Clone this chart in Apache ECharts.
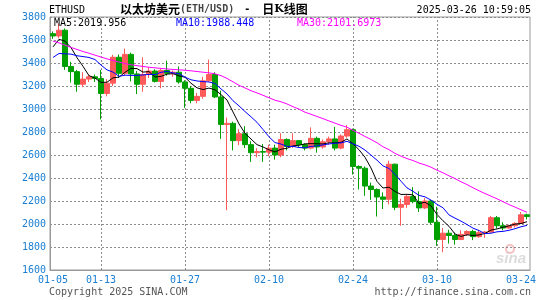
<!DOCTYPE html>
<html><head><meta charset="utf-8">
<script src="https://cdn.jsdelivr.net/npm/echarts@6.0.0/dist/echarts.min.js"></script>
<style>html,body{margin:0;padding:0;background:#fff}#c{width:545px;height:300px}</style>
</head><body><div id="c"></div>
<script>
const dates = ['01-05','01-06','01-07','01-08','01-09','01-10','01-11','01-12','01-13','01-14','01-15','01-16','01-17','01-18','01-19','01-20','01-21','01-22','01-23','01-24','01-25','01-26','01-27','01-28','01-29','01-30','01-31',
'02-01','02-02','02-03','02-04','02-05','02-06','02-07','02-08','02-09','02-10','02-11','02-12','02-13','02-14','02-15','02-16','02-17','02-18','02-19','02-20','02-21','02-22','02-23','02-24','02-25','02-26','02-27','02-28',
'03-01','03-02','03-03','03-04','03-05','03-06','03-07','03-08','03-09','03-10','03-11','03-12','03-13','03-14','03-15','03-16','03-17','03-18','03-19','03-20','03-21','03-22','03-23','03-24','03-25'];
const opens = [3655,3635,3685,3370,3325,3215,3260,3280,3265,3135,3225,3450,3310,3475,3305,3215,3300,3330,3240,3335,3310,3320,3235,3180,3075,3110,3245,3300,3105,2865,2875,2725,2785,2690,2620,2630,2625,2660,2600,2735,2675,2725,2690,2660,2745,2670,2715,2740,2660,2765,2820,2500,2485,2330,2300,2235,2215,2520,2145,2170,2240,2195,2140,2200,2015,1865,1920,1900,1865,1910,1935,1890,1925,1930,2055,1985,1965,1985,2005,2080];
const highs = [3675,3745,3700,3410,3340,3320,3300,3300,3340,3260,3470,3475,3525,3490,3330,3450,3360,3345,3350,3420,3335,3370,3250,3200,3140,3280,3430,3320,3160,2925,2890,2825,2850,2720,2660,2695,2690,2690,2790,2745,2790,2730,2700,2840,2760,2735,2760,2845,2780,2860,2830,2510,2500,2360,2310,2275,2550,2525,2220,2260,2320,2285,2225,2210,2150,1965,1950,1925,1945,1945,1950,1950,1940,2070,2070,2015,1995,2015,2105,2090];
const lows = [3610,3615,3340,3230,3150,3190,3235,3235,2910,3110,3200,3270,3290,3240,3130,3150,3270,3230,3180,3290,3280,3220,3010,3050,3050,3090,3235,3095,2740,2120,2640,2685,2660,2540,2580,2540,2590,2560,2580,2640,2660,2670,2640,2650,2620,2655,2690,2640,2650,2750,2430,2300,2245,2210,2065,2130,2170,2120,1985,2140,2180,2105,2130,1995,1810,1755,1830,1820,1860,1895,1860,1880,1880,1925,1960,1945,1960,1970,2000,2040];
const closes = [3635,3685,3370,3325,3215,3260,3280,3265,3135,3225,3450,3310,3475,3305,3215,3300,3330,3240,3335,3310,3320,3235,3180,3075,3110,3245,3300,3105,2865,2875,2725,2785,2690,2620,2630,2625,2660,2600,2735,2675,2725,2690,2660,2745,2670,2715,2740,2660,2765,2820,2500,2485,2330,2300,2235,2215,2520,2145,2170,2240,2195,2140,2200,2015,1865,1920,1900,1865,1910,1935,1890,1925,1930,2055,1985,1965,1985,2005,2080,2065];
const ma5 = [3540,3606,3590,3534,3446,3371,3290,3269,3231,3233,3271,3277,3319,3353,3351,3321,3325,3278,3284,3303,3307,3288,3276,3224,3184,3169,3182,3167,3125,3078,2974,2871,2788,2739,2690,2670,2645,2627,2650,2659,2679,2685,2697,2699,2698,2696,2706,2706,2710,2740,2697,2646,2580,2487,2370,2313,2320,2283,2257,2258,2254,2178,2189,2158,2083,2028,1980,1913,1892,1906,1900,1905,1918,1947,1957,1972,1984,1999,2004,2020];
const ma10 = [3448,3483,3480,3477,3463,3456,3448,3430,3382,3340,3321,3284,3294,3292,3292,3296,3301,3299,3319,3327,3314,3307,3277,3254,3244,3238,3235,3222,3175,3131,3072,3027,2978,2932,2884,2822,2758,2708,2695,2675,2675,2665,2662,2675,2679,2688,2696,2702,2705,2719,2697,2676,2643,2599,2555,2505,2483,2432,2372,2314,2284,2249,2236,2208,2171,2141,2079,2051,2025,1995,1964,1943,1916,1920,1932,1936,1945,1959,1976,1988];
const ma30 = [3590,3575,3555,3535,3518,3500,3485,3468,3452,3436,3422,3408,3395,3385,3377,3370,3363,3358,3353,3348,3344,3341,3337,3332,3326,3320,3314,3306,3290,3266,3236,3206,3183,3159,3140,3119,3098,3076,3063,3044,3020,2999,2972,2954,2935,2916,2896,2877,2858,2842,2814,2789,2761,2735,2706,2672,2646,2614,2590,2569,2552,2530,2514,2494,2468,2445,2419,2395,2367,2343,2315,2289,2265,2242,2219,2194,2169,2147,2124,2102];
const maLabels = ['MA5:2019.956','MA10:1988.448','MA30:2101.6973'];
const labelDates = ['01-05','01-13','01-27','02-10','02-24','03-10','03-24'];
const gridDates = ['01-13','01-27','02-10','02-24','03-10'];

const MONO = '"DejaVu Sans Mono", "Liberation Mono", monospace';
const BLUE = '#1a7fd3';
const GRIDC = '#8c8c8c';
const labelIdx = labelDates.map(d => dates.indexOf(d));
const gridIdx = gridDates.map(d => dates.indexOf(d));
const kdata = dates.map((d, i) => [opens[i], closes[i], lows[i], highs[i]]);

const chart = echarts.init(document.getElementById('c'), null, {renderer: 'canvas'});
chart.setOption({
  animation: false,
  backgroundColor: '#fff',
  title: [
    {text: 'ETHUSD', left: 49, top: 5, padding: 0, textStyle: {fontFamily: MONO, fontSize: 10, fontWeight: 'normal', color: '#000'}},
    {text: '{a|以太坊美元}{b|(ETH/USD)}{c| - }{a|日}{k|K}{a|线图}', left: 120, top: 3, padding: 0,
      textStyle: {rich: {
        a: {fontFamily: '"Noto Sans CJK SC"', fontSize: 12, color: '#000'},
        b: {fontFamily: MONO, fontSize: 10, color: '#444'},
        c: {fontFamily: MONO, fontSize: 10, color: '#000', padding: [0, 6, 0, 4]},
        k: {fontFamily: '"DejaVu Serif"', fontSize: 11, fontWeight: 'bold', color: '#000'}
      }}},
    {text: '2025-03-26 10:59:05', right: 14, top: 5, padding: 0, textStyle: {fontFamily: MONO, fontSize: 10, fontWeight: 'normal', color: '#000'}},
    {text: maLabels[0], left: 54, top: 18, padding: 0, textStyle: {fontFamily: MONO, fontSize: 10, fontWeight: 'normal', color: '#000'}},
    {text: maLabels[1], left: 176, top: 18, padding: 0, textStyle: {fontFamily: MONO, fontSize: 10, fontWeight: 'normal', color: '#0000ff'}},
    {text: maLabels[2], left: 297, top: 18, padding: 0, textStyle: {fontFamily: MONO, fontSize: 10, fontWeight: 'normal', color: '#ff00ff'}},
    {text: 'Copyright 2025 SINA.COM', left: 49, top: 287, padding: 0, textStyle: {fontFamily: MONO, fontSize: 10, fontWeight: 'normal', color: '#555'}},
    {text: 'http://finance.sina.com.cn', right: 14, top: 287, padding: 0, textStyle: {fontFamily: MONO, fontSize: 10, fontWeight: 'normal', color: '#555'}}
  ],
  graphic: [
    {type: 'circle', shape: {cx: 510, cy: 249, r: 4}, style: {fill: 'none', stroke: 'rgba(240,150,150,0.6)', lineWidth: 2}, z: 0},
    {type: 'text', left: 496, top: 251, style: {text: 'sina', font: 'italic bold 15px "Liberation Sans"', fill: 'rgba(190,190,190,0.55)'}, z: 0}
  ],
  grid: {left: 50, right: 15, top: 17, bottom: 30, show: true, borderColor: '#999', borderWidth: 1, backgroundColor: 'transparent'},
  xAxis: {
    type: 'category', data: dates, boundaryGap: true,
    axisLine: {lineStyle: {color: '#999'}},
    axisTick: {show: true, inside: true, length: 253, alignWithLabel: true, interval: (i) => gridIdx.includes(i),
      lineStyle: {color: GRIDC, width: 1, type: [2, 2]}},
    axisLabel: {interval: (i) => labelIdx.includes(i), color: BLUE, fontFamily: MONO, fontSize: 10, margin: 5},
    splitLine: {show: false}
  },
  yAxis: {
    type: 'value', min: 1600, max: 3800, interval: 200,
    axisLine: {show: true, lineStyle: {color: '#999'}},
    axisTick: {show: false},
    axisLabel: {color: BLUE, fontFamily: MONO, fontSize: 10, margin: 4, formatter: (v) => String(v)},
    splitLine: {show: true, lineStyle: {color: GRIDC, width: 1, type: [2, 2]}}
  },
  series: [
    {type: 'candlestick', data: kdata, barWidth: 5, z: 3,
      itemStyle: {color: '#ff5a5a', color0: '#00a000', borderColor: '#ff5a5a', borderColor0: '#00a000', borderWidth: 1}},
    {type: 'line', data: ma5, symbol: 'none', z: 4, lineStyle: {color: '#000', width: 1}},
    {type: 'line', data: ma10, symbol: 'none', z: 4, lineStyle: {color: '#0000ff', width: 1}},
    {type: 'line', data: ma30, symbol: 'none', z: 4, lineStyle: {color: '#ff00ff', width: 1}}
  ]
});
</script></body></html>
